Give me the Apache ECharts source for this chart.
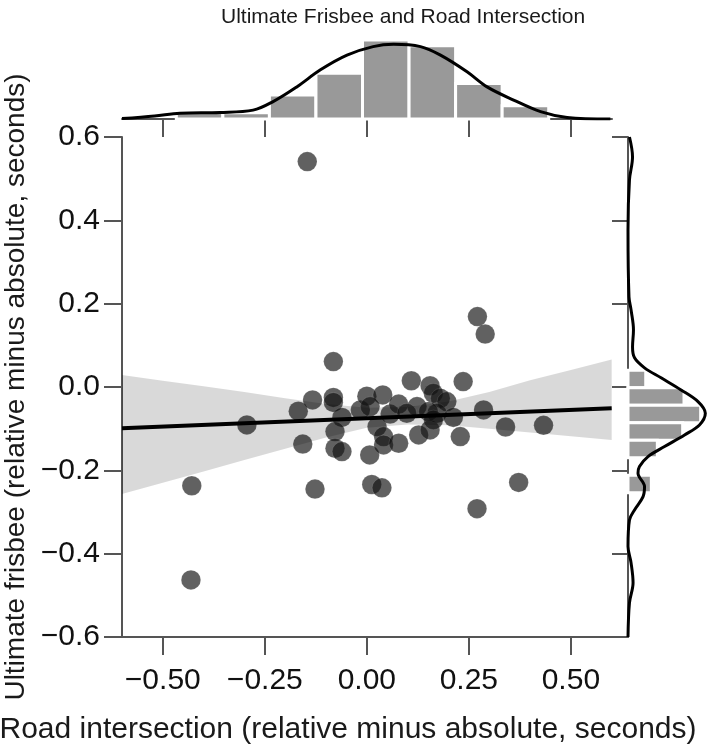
<!DOCTYPE html>
<html>
<head>
<meta charset="utf-8">
<script src="https://cdn.jsdelivr.net/npm/echarts@6/dist/echarts.min.js"></script>
<style>
html,body{margin:0;padding:0;background:#fff;}
#chart{width:708px;height:745px;}
</style>
</head>
<body>
<div id="chart"></div>
<script>
// ---------- data ----------
const titleText = 'Ultimate Frisbee and Road Intersection';
const xAxisTitle = 'Road intersection (relative minus absolute, seconds)';
const yAxisTitle = 'Ultimate frisbee (relative minus absolute, seconds)';

const xTicks = [-0.5, -0.25, 0, 0.25, 0.5];

// scatter points [road, frisbee]
const points = [
  [-0.146, 0.541], [0.271, 0.169], [0.290, 0.127], [-0.082, 0.061],
  [-0.429, -0.237], [-0.431, -0.463], [-0.294, -0.091], [-0.168, -0.058],
  [-0.133, -0.031], [-0.157, -0.137], [-0.127, -0.245], [-0.082, -0.025],
  [-0.082, -0.037], [-0.061, -0.073], [-0.078, -0.107], [-0.078, -0.147],
  [-0.061, -0.155], [-0.016, -0.055], [0.000, -0.022], [0.039, -0.019],
  [0.007, -0.163], [0.012, -0.234], [0.037, -0.242], [0.025, -0.095],
  [0.041, -0.119], [0.041, -0.139], [0.078, -0.135], [0.057, -0.065],
  [0.078, -0.041], [0.109, 0.015], [0.123, -0.047], [0.127, -0.115],
  [0.155, -0.103], [0.155, 0.003], [0.163, -0.015], [0.180, -0.027],
  [0.196, -0.035], [0.172, -0.063], [0.212, -0.073], [0.229, -0.119],
  [0.236, 0.013], [0.286, -0.055], [0.340, -0.096], [0.433, -0.092],
  [0.372, -0.229], [0.270, -0.292], [0.008, -0.047], [0.098, -0.063],
  [0.151, -0.059], [0.163, -0.079]
];

// regression line end points
const regX = [-0.6, 0.6];
const regY = [-0.099, -0.051];

// confidence band
const bandX     = [-0.6, -0.5, -0.4, -0.3, -0.2, -0.1, 0.0, 0.1, 0.2, 0.3, 0.4, 0.5, 0.6];
const bandUpper = [0.029, 0.015, 0.002, -0.012, -0.027, -0.041, -0.050, -0.048, -0.035, -0.012, 0.016, 0.041, 0.066];
const bandLower = [-0.257, -0.230, -0.203, -0.175, -0.148, -0.121, -0.098, -0.090, -0.092, -0.100, -0.109, -0.118, -0.127];

// top marginal histogram (bin edges on x, density)
const xBinEdges = [-0.467, -0.353, -0.239, -0.125, -0.011, 0.103, 0.217, 0.331, 0.445];
const xBinHeights = [0.18, 0.16, 0.62, 1.18, 2.04, 1.89, 0.92, 0.34];

// top marginal KDE
const xKdeX = [-0.60, -0.52, -0.458, -0.36, -0.279, -0.23, -0.172, -0.114, -0.049, 0.015, 0.065, 0.131, 0.18, 0.245, 0.294, 0.359, 0.425, 0.49, 0.596];
const xKdeY = [0.01, 0.08, 0.15, 0.17, 0.23, 0.45, 0.83, 1.27, 1.65, 1.87, 1.93, 1.87, 1.65, 1.22, 0.83, 0.49, 0.19, 0.04, 0.0];

// right marginal histogram (bin edges on y, density)
const yBins = [[0.040, -0.002], [-0.002, -0.044], [-0.044, -0.086], [-0.086, -0.128], [-0.128, -0.170], [-0.212, -0.254]];
const yBinWidths = [1.33, 4.2, 5.45, 4.1, 2.2, 1.75];

// right marginal KDE
const yKdeY = [0.6, 0.552, 0.497, 0.377, 0.216, 0.185, 0.137, 0.096, 0.070, 0.046, 0.022, -0.007, -0.035, -0.063, -0.091, -0.115, -0.143, -0.167, -0.191, -0.207, -0.239, -0.263, -0.295, -0.319, -0.383, -0.422, -0.470, -0.518, -0.6];
const yKdeX = [0.11, 0.34, 0.11, 0.0, 0.075, 0.23, 0.41, 0.34, 0.49, 1.24, 2.48, 3.98, 5.25, 5.8, 5.36, 4.24, 2.74, 1.5, 0.86, 0.75, 1.24, 1.13, 0.49, 0.11, 0.0, 0.23, 0.38, 0.11, 0.0];

// ---------- chart ----------
const FONT = '"Liberation Sans", Arial, Helvetica, sans-serif';
const AX = '#555555';
const fmtMinus = (s) => s.replace('-', '\u2212');

const chart = echarts.init(document.getElementById('chart'), null, {renderer: 'canvas'});

const histTopRender = function (params, api) {
  const x0 = api.value(0), x1 = api.value(1), h = api.value(2);
  const p0 = api.coord([x0, 0]);
  const p1 = api.coord([x1, h]);
  return {
    type: 'rect',
    shape: {x: p0[0], y: p1[1], width: p1[0] - p0[0], height: p0[1] - p1[1]},
    style: {fill: '#999999', stroke: '#ffffff', lineWidth: 3}
  };
};
const histRightRender = function (params, api) {
  const y0 = api.value(0), y1 = api.value(1), w = api.value(2);
  const p0 = api.coord([0, y0]);
  const p1 = api.coord([w, y1]);
  return {
    type: 'rect',
    shape: {x: p0[0], y: p0[1], width: p1[0] - p0[0], height: p1[1] - p0[1]},
    style: {fill: '#999999', stroke: '#ffffff', lineWidth: 3}
  };
};
const bandRender = function (params, api) {
  const pts = [];
  for (let i = 0; i < bandX.length; i++) pts.push(api.coord([bandX[i], bandUpper[i]]));
  for (let i = bandX.length - 1; i >= 0; i--) pts.push(api.coord([bandX[i], bandLower[i]]));
  return {type: 'polygon', shape: {points: pts}, style: {fill: 'rgba(0,0,0,0.15)'}};
};

const gridBase = {containLabel: false, outerBoundsMode: 'none'};

const option = {
  animation: false,
  backgroundColor: '#ffffff',
  title: {
    text: titleText,
    left: 216,
    top: 2,
    textStyle: {fontFamily: FONT, fontSize: 21, fontWeight: 'normal', color: '#1a1a1a'}
  },
  grid: [
    Object.assign({left: 122, top: 137, width: 506, height: 500}, gridBase),
    Object.assign({left: 122, top: 30, width: 490, height: 89}, gridBase),
    Object.assign({left: 628, top: 137, width: 80, height: 500}, gridBase)
  ],
  xAxis: [
    {
      gridIndex: 0, type: 'value', min: -0.6, max: 0.64,
      name: xAxisTitle, nameLocation: 'middle', nameGap: 78,
      nameTextStyle: {fontFamily: FONT, fontSize: 30, color: '#1a1a1a', padding: [0, 54, 0, 0]},
      axisLine: {show: true, onZero: false, lineStyle: {color: AX, width: 2}},
      axisTick: {show: true, customValues: xTicks, length: 18, lineStyle: {color: AX, width: 2}},
      axisLabel: {customValues: xTicks, margin: 29, fontFamily: FONT, fontSize: 30, color: '#111',
        formatter: (v) => fmtMinus(Math.abs(v) < 1e-9 ? '0.00' : v.toFixed(2))},
      splitLine: {show: false}
    },
    {
      gridIndex: 1, type: 'value', min: -0.6, max: 0.6,
      axisLine: {show: true, onZero: false, lineStyle: {color: AX, width: 2}},
      axisTick: {show: true, customValues: xTicks, length: 18, lineStyle: {color: AX, width: 2}},
      axisLabel: {show: false},
      splitLine: {show: false}
    },
    {
      gridIndex: 2, type: 'value', min: 0, max: 6, show: false
    }
  ],
  yAxis: [
    {
      gridIndex: 0, type: 'value', min: -0.6, max: 0.6, interval: 0.2,
      name: yAxisTitle, nameLocation: 'middle', nameGap: 92,
      nameTextStyle: {fontFamily: FONT, fontSize: 28, color: '#1a1a1a'},
      axisLine: {show: true, onZero: false, lineStyle: {color: AX, width: 2}},
      axisTick: {show: true, length: 18, lineStyle: {color: AX, width: 2}},
      axisLabel: {margin: 22, fontFamily: FONT, fontSize: 30, color: '#111',
        formatter: (v) => fmtMinus(Math.abs(v) < 1e-9 ? '0.0' : v.toFixed(1))},
      splitLine: {show: false}
    },
    {
      gridIndex: 1, type: 'value', min: 0, max: 2.3, show: false
    },
    {
      gridIndex: 2, type: 'value', min: -0.6, max: 0.6, interval: 0.2, position: 'left',
      axisLine: {show: true, onZero: false, lineStyle: {color: AX, width: 2}},
      axisTick: {show: true, length: 16, lineStyle: {color: AX, width: 2}},
      axisLabel: {show: false},
      splitLine: {show: false}
    }
  ],
  series: [
    {
      type: 'scatter', xAxisIndex: 0, yAxisIndex: 0, z: 2,
      symbolSize: 19.5,
      itemStyle: {color: 'rgba(18,18,18,0.83)', borderColor: 'rgba(255,255,255,0.25)', borderWidth: 0.6},
      data: points
    },
    {
      type: 'custom', xAxisIndex: 0, yAxisIndex: 0, z: 3, silent: true,
      renderItem: bandRender, data: [[0, 0]]
    },
    {
      type: 'line', xAxisIndex: 0, yAxisIndex: 0, z: 4, symbol: 'none',
      lineStyle: {color: '#000', width: 4},
      data: regX.map((x, i) => [x, regY[i]])
    },
    {
      type: 'custom', xAxisIndex: 1, yAxisIndex: 1, z: 2,
      renderItem: histTopRender, encode: {x: [0, 1], y: 2},
      data: xBinHeights.map((h, i) => [xBinEdges[i], xBinEdges[i + 1], h])
    },
    {
      type: 'line', xAxisIndex: 1, yAxisIndex: 1, z: 4, symbol: 'none', smooth: 0.35,
      lineStyle: {color: '#000', width: 3},
      data: xKdeX.map((x, i) => [x, xKdeY[i]])
    },
    {
      type: 'custom', xAxisIndex: 2, yAxisIndex: 2, z: 2,
      renderItem: histRightRender, encode: {y: [0, 1], x: 2},
      data: yBinWidths.map((w, i) => [yBins[i][0], yBins[i][1], w])
    },
    {
      type: 'line', xAxisIndex: 2, yAxisIndex: 2, z: 4, symbol: 'none', smooth: 0.35,
      lineStyle: {color: '#000', width: 3},
      data: yKdeY.map((y, i) => [yKdeX[i], y])
    }
  ]
};
chart.setOption(option);
</script>
</body>
</html>
